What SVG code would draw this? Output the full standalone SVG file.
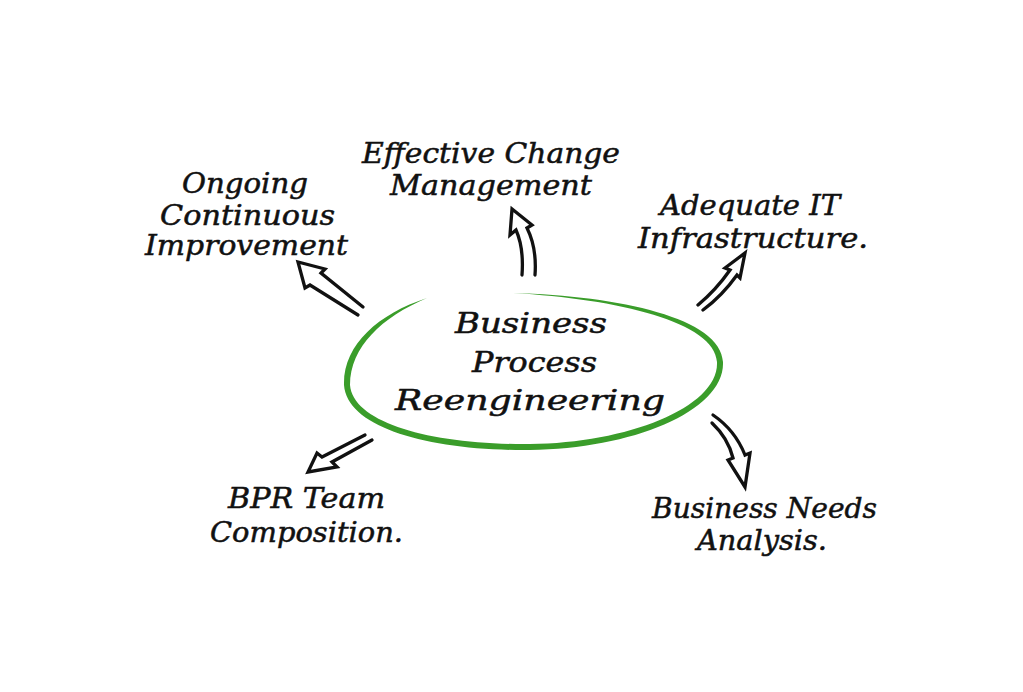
<svg xmlns="http://www.w3.org/2000/svg" width="1023" height="692" viewBox="0 0 1023 692">
<style>
  .t { font-family: "DejaVu Serif", "Liberation Serif", serif; font-style: italic; font-size: 27px; fill: #111; stroke: #111; stroke-width: 0.5; }
  .arrow { fill: #fff; stroke: #111; stroke-width: 3.3; stroke-linejoin: miter; stroke-linecap: round; }
</style>
<rect width="1023" height="692" fill="#fff"/>
<g id="center">
  <path fill="#3a9d2a" d="M 427 298 C 378 314, 343 345, 344 385 C 347 428, 430 451, 530 450 C 632 449, 725 411, 723 362 C 721 318, 620 296, 513 293 C 618 299, 715 322, 717 362 C 719 407, 628 443, 530 444 C 432 445, 353 423, 350 385 C 350 347, 382 317, 427 298 Z"/>
  <text class="t" x="455" y="333" textLength="152" lengthAdjust="spacingAndGlyphs">Business</text>
  <text class="t" x="472" y="372" textLength="125" lengthAdjust="spacingAndGlyphs">Process</text>
  <text class="t" x="395" y="410" textLength="270" lengthAdjust="spacingAndGlyphs">Reengineering</text>
</g>
<g id="effective-change">
  <text class="t" x="362" y="163" textLength="258" lengthAdjust="spacingAndGlyphs">Effective  Change</text>
  <text class="t" x="390" y="195" textLength="202" lengthAdjust="spacingAndGlyphs">Management</text>
</g>
<g id="ongoing">
  <text class="t" x="182" y="193" textLength="126" lengthAdjust="spacingAndGlyphs">Ongoing</text>
  <text class="t" x="160" y="225" textLength="175" lengthAdjust="spacingAndGlyphs">Continuous</text>
  <text class="t" x="145" y="255" textLength="203" lengthAdjust="spacingAndGlyphs">Improvement</text>
</g>
<g id="adequate-it">
  <text class="t" x="660" y="215" textLength="180" lengthAdjust="spacingAndGlyphs">Adequate IT</text>
  <text class="t" x="638" y="248" textLength="230" lengthAdjust="spacingAndGlyphs">Infrastructure.</text>
</g>
<g id="bpr-team">
  <text class="t" x="228" y="508" textLength="157" lengthAdjust="spacingAndGlyphs">BPR Team</text>
  <text class="t" x="210" y="542" textLength="193" lengthAdjust="spacingAndGlyphs">Composition.</text>
</g>
<g id="business-needs">
  <text class="t" x="652" y="518" textLength="225" lengthAdjust="spacingAndGlyphs">Business Needs</text>
  <text class="t" x="697" y="550" textLength="130" lengthAdjust="spacingAndGlyphs">Analysis.</text>
</g>
<g id="connectors">
  <path class="arrow" d="M 358 315 L 310 285 L 305 288 L 298 262 L 325 269 L 321 273 L 363 307"/>
  <path class="arrow" d="M 522 275 Q 524 248 516 230 L 510 235 L 512 209 L 532 225 L 527 228 Q 537 248 535 275"/>
  <path class="arrow" d="M 698 305 Q 716 290 730 270 L 725 268 L 745 253 L 740 278 L 737 275 Q 722 296 703 310"/>
  <path class="arrow" d="M 365 435 L 322 457 L 317 453 L 308 472 L 337 467 L 332 462 L 372 440"/>
  <path class="arrow" d="M 713 415 Q 735 430 745 455 L 750 453 L 745 487 L 728 460 L 733 458 Q 728 438 712 423"/>
</g>
</svg>
